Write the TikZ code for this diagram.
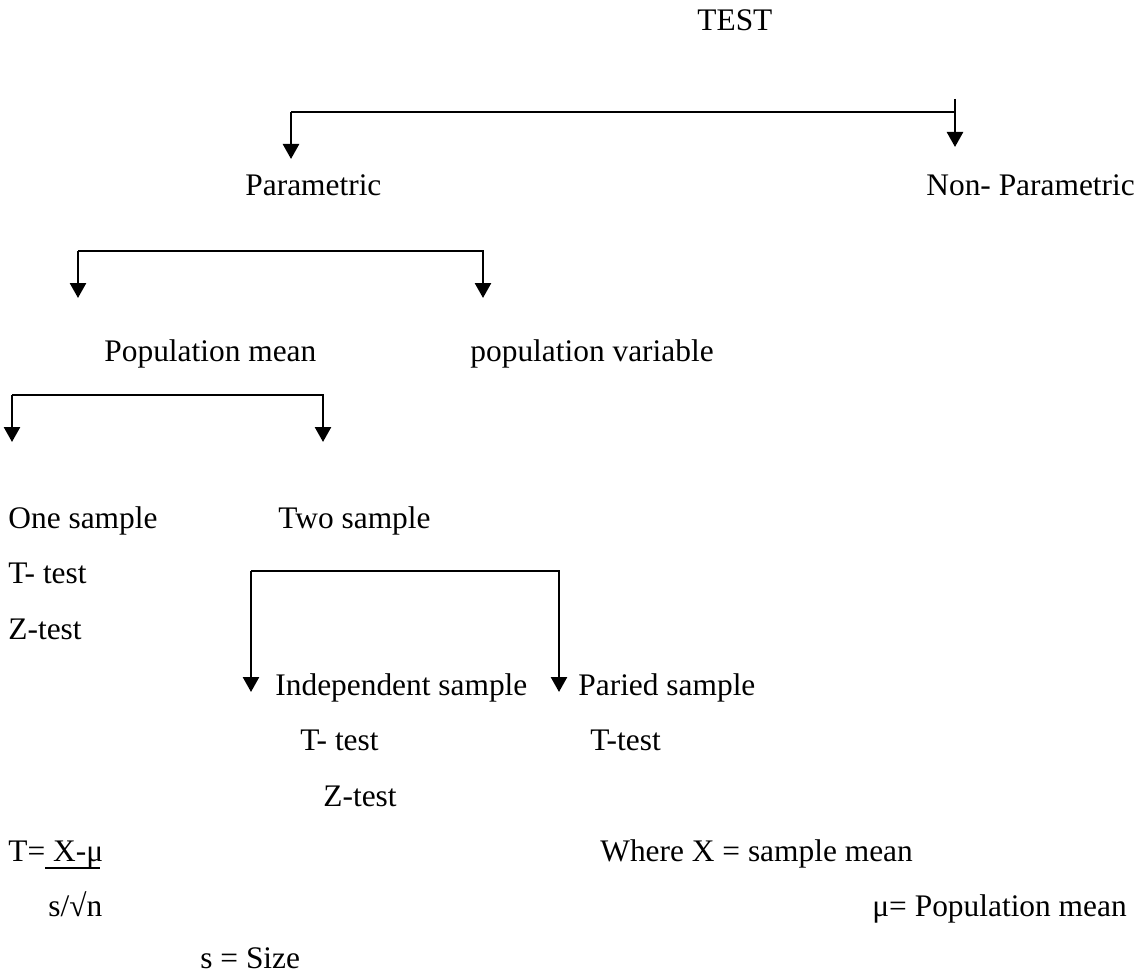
\documentclass[tikz,border=0pt]{standalone}
\usepackage{fontspec}
\setmainfont{Liberation Serif}
\usetikzlibrary{arrows.meta}
\begin{document}
\begin{tikzpicture}[x=0.5pt,y=-0.5pt,
  lbl/.style={anchor=base west,inner sep=0pt,font=\fontsize{15.7}{18}\selectfont},
  conn/.style={line width=1.3pt},
  arr/.style={conn,-{Triangle[length=7.5pt,width=8pt]}}]
\useasboundingbox (0,0) rectangle (1141,974);
% texts (base lines)
\node[lbl] (test) at (697,31) {TEST};
\node[lbl] (par) at (245,196) {Parametric};
\node[lbl] (npar) at (926,196) {Non- Parametric};
\node[lbl] (pmean) at (104,361) {Population mean};
\node[lbl] (pvar) at (470,361) {population variable};
\node[lbl] (one) at (8,528) {One sample};
\node[lbl] (two) at (278,528) {Two sample};
\node[lbl] (ttest1) at (8,583) {T- test};
\node[lbl] (ztest1) at (8,639) {Z-test};
\node[lbl] (ind) at (275,695) {Independent sample};
\node[lbl] (pair) at (578,695) {Paried sample};
\node[lbl] (ttest2) at (300,750) {T- test};
\node[lbl] (ttest3) at (590,750) {T-test};
\node[lbl] (ztest2) at (323,806) {Z-test};
\node[lbl] (form) at (8,861) {T= X-μ};
\node[lbl] (den) at (48,916) {s/√n};
\node[lbl] (size) at (200,968) {s = Size};
\node[lbl] (where) at (600,861) {Where X = sample mean};
\node[lbl] (mu) at (872,916) {μ= Population mean};
% connector coordinates
\coordinate (a1l) at (291,112);
\coordinate (a1r) at (955,112);
\coordinate (a1rt) at (955,99);
\coordinate (a1lt) at (291,159);
\coordinate (a1rtip) at (955,147);
\coordinate (a2l) at (78,251);
\coordinate (a2r) at (483,251);
\coordinate (a2lt) at (78,298);
\coordinate (a2rt) at (483,298);
\coordinate (a3l) at (12,395);
\coordinate (a3r) at (323,395);
\coordinate (a3lt) at (12,442);
\coordinate (a3rt) at (323,442);
\coordinate (a4l) at (251,571);
\coordinate (a4r) at (559,571);
\coordinate (a4lt) at (251,692);
\coordinate (a4rt) at (559,692);
\coordinate (ul1) at (45,868);
\coordinate (ul2) at (100,868);
% connectors
\draw[conn] (a1l) -- (a1r);
\draw[arr] (a1l) -- (a1lt);
\draw[arr] (a1rt) -- (a1rtip);
\draw[arr] (a2l) -- (a2r) -- (a2rt);
\draw[arr] (a2l) -- (a2lt);
\draw[arr] (a3l) -- (a3r) -- (a3rt);
\draw[arr] (a3l) -- (a3lt);
\draw[arr] (a4l) -- (a4r) -- (a4rt);
\draw[arr] (a4l) -- (a4lt);
% fraction bar
\draw[line width=1pt] (ul1) -- (ul2);
\end{tikzpicture}
\end{document}
